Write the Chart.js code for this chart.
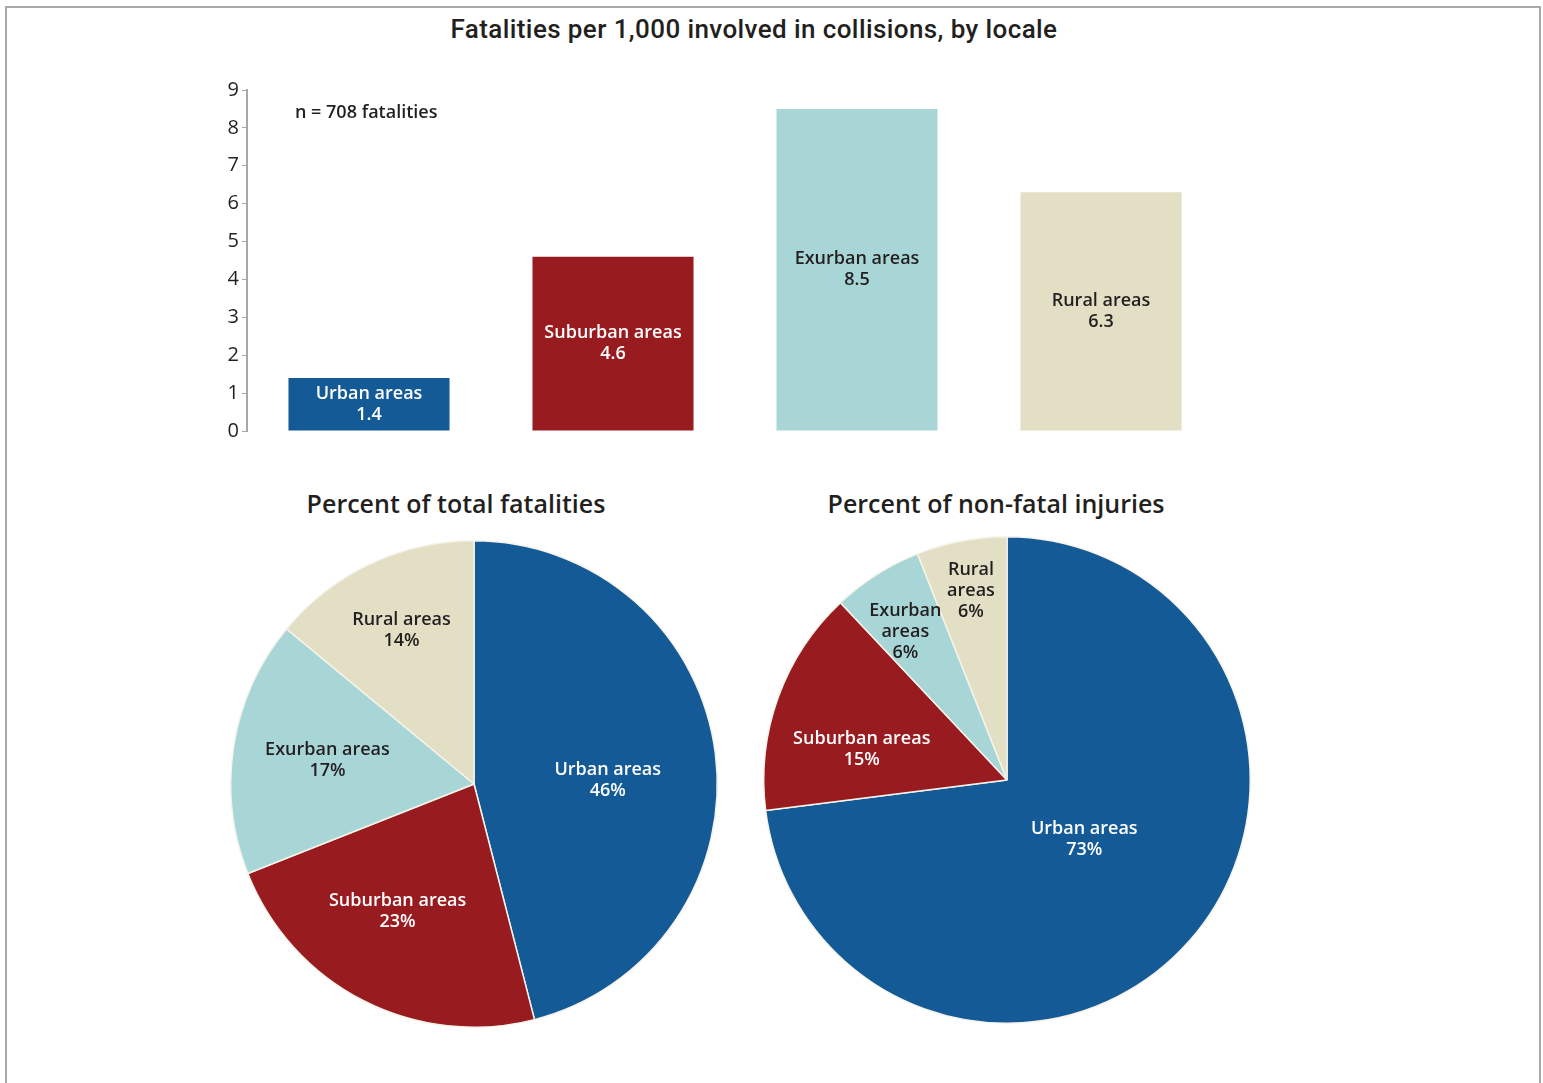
<!DOCTYPE html>
<html>
<head>
<meta charset="utf-8">
<script src="https://cdn.jsdelivr.net/npm/chart.js@4"></script>
<style>
  html, body { margin: 0; padding: 0; background: #fff; overflow: hidden; }
  #frame { position: absolute; left: 5px; top: 6px; width: 1532px; height: 1100px;
           border: 2px solid #a9a9a9; border-bottom: none; }
  .box { position: absolute; }
  .head { position: absolute; color: #231f20; white-space: nowrap; transform: translate(-50%, -50%); }
</style>
</head>
<body>
<div id="frame"></div>

<div class="head" style="left:754px; top:29px; font: 500 26px Roboto, sans-serif; letter-spacing:0.4px;">Fatalities per 1,000 involved in collisions, by locale</div>
<div class="head" style="left:456px; top:503px; font: 600 25px 'Open Sans', sans-serif;">Percent of total fatalities</div>
<div class="head" style="left:996px; top:503px; font: 600 25px 'Open Sans', sans-serif;">Percent of non-fatal injuries</div>

<div class="box" style="left:200px; top:75px; width:1040px; height:371px;"><canvas id="bars"></canvas></div>
<div class="box" style="left:224px; top:534px; width:500px; height:500px;"><canvas id="pieLeft"></canvas></div>
<div class="box" style="left:757px; top:530px; width:500px; height:500px;"><canvas id="pieRight"></canvas></div>

<script>
// Data
const locales = ["Urban areas", "Suburban areas", "Exurban areas", "Rural areas"];
const fatalityRate = [1.4, 4.6, 8.5, 6.3];
const yTicks = [0, 1, 2, 3, 4, 5, 6, 7, 8, 9];
const fatalityShare = [46, 23, 17, 14];
const injuryShare = [73, 15, 6, 6];
const sampleNote = "n = 708 fatalities";

// Styles
const colors = ["#135a96", "#981b1f", "#a8d6d7", "#e2dfc4"];
const textColors = ["#ffffff", "#ffffff", "#231f20", "#231f20"];
const labelFont = "600 18px 'Open Sans', sans-serif";

function drawLines(ctx, lines, x, y, color) {
    const lh = 21;
    ctx.fillStyle = color;
    ctx.textAlign = "center";
    ctx.textBaseline = "middle";
    const top = y - (lines.length - 1) * lh / 2;
    lines.forEach((line, i) => ctx.fillText(line, x, top + i * lh));
}

// Labels inside the bars
const barLabels = {
    id: "barLabels",
    afterDatasetsDraw(chart) {
        const ctx = chart.ctx;
        ctx.save();
        ctx.font = labelFont;
        chart.getDatasetMeta(0).data.forEach((bar, i) => {
            const p = bar.getProps(["x", "y", "base"], true);
            drawLines(ctx, [locales[i], String(fatalityRate[i])], p.x, (p.y + p.base) / 2, textColors[i]);
        });
        ctx.fillStyle = "#231f20";
        ctx.textAlign = "left";
        ctx.textBaseline = "middle";
        ctx.fillText(sampleNote, chart.chartArea.left + 48, chart.chartArea.top + 23);
        ctx.restore();
    }
};

new Chart(document.querySelector("#bars"), {
    type: "bar",
    data: {
        labels: locales,
        datasets: [{
            data: fatalityRate,
            backgroundColor: colors,
            barPercentage: 0.66,
            categoryPercentage: 1
        }]
    },
    options: {
        responsive: true,
        maintainAspectRatio: false,
        animation: false,
        layout: { padding: { top: 14, bottom: 5, right: 17, left: 0 } },
        plugins: { legend: { display: false }, tooltip: { enabled: false } },
        scales: {
            x: { display: false },
            y: {
                min: 0,
                max: 9,
                afterFit: scale => { scale.width = 47; },
                afterBuildTicks: scale => { scale.ticks = yTicks.map(v => ({ value: v })); },
                border: { display: true, color: "#a8a8a8", width: 2 },
                grid: { drawOnChartArea: false, drawTicks: true, tickLength: 5, color: "#a8a8a8" },
                ticks: {
                    padding: 3,
                    color: "#231f20",
                    font: { family: "'Open Sans', sans-serif", size: 20, weight: 500 }
                }
            }
        }
    },
    plugins: [barLabels]
});

// Labels inside the pie slices
const pieLabels = {
    id: "pieLabels",
    afterDatasetsDraw(chart, args, opts) {
        const ctx = chart.ctx;
        ctx.save();
        ctx.font = labelFont;
        chart.getDatasetMeta(0).data.forEach((arc, i) => {
            const p = arc.getProps(["x", "y", "startAngle", "endAngle", "outerRadius"], true);
            const mid = (p.startAngle + p.endAngle) / 2 + opts.turn[i] * Math.PI / 180;
            const r = p.outerRadius * opts.dist[i];
            const lines = opts.lines[i].concat([chart.data.datasets[0].data[i] + "%"]);
            drawLines(ctx, lines, p.x + Math.cos(mid) * r, p.y + Math.sin(mid) * r, textColors[i]);
        });
        ctx.restore();
    }
};

function createPie(selector, values, lines, dist, turn) {
    return new Chart(document.querySelector(selector), {
        type: "pie",
        data: {
            labels: locales,
            datasets: [{
                data: values,
                backgroundColor: colors,
                borderColor: "#f6f3ea",
                borderWidth: 1.5
            }]
        },
        options: {
            responsive: true,
            maintainAspectRatio: false,
            animation: false,
            layout: { padding: 6 },
            plugins: {
                legend: { display: false },
                tooltip: { enabled: false },
                pieLabels: { lines: lines, dist: dist, turn: turn }
            }
        },
        plugins: [pieLabels]
    });
}

createPie("#pieLeft", fatalityShare,
    [["Urban areas"], ["Suburban areas"], ["Exurban areas"], ["Rural areas"]],
    [0.55, 0.61, 0.61, 0.70], [5.5, 4, 0, 0]);

createPie("#pieRight", injuryShare,
    [["Urban areas"], ["Suburban areas"], ["Exurban", "areas"], ["Rural", "areas"]],
    [0.40, 0.61, 0.74, 0.79], [-4, -8, -2, 0]);
</script>
</body>
</html>
